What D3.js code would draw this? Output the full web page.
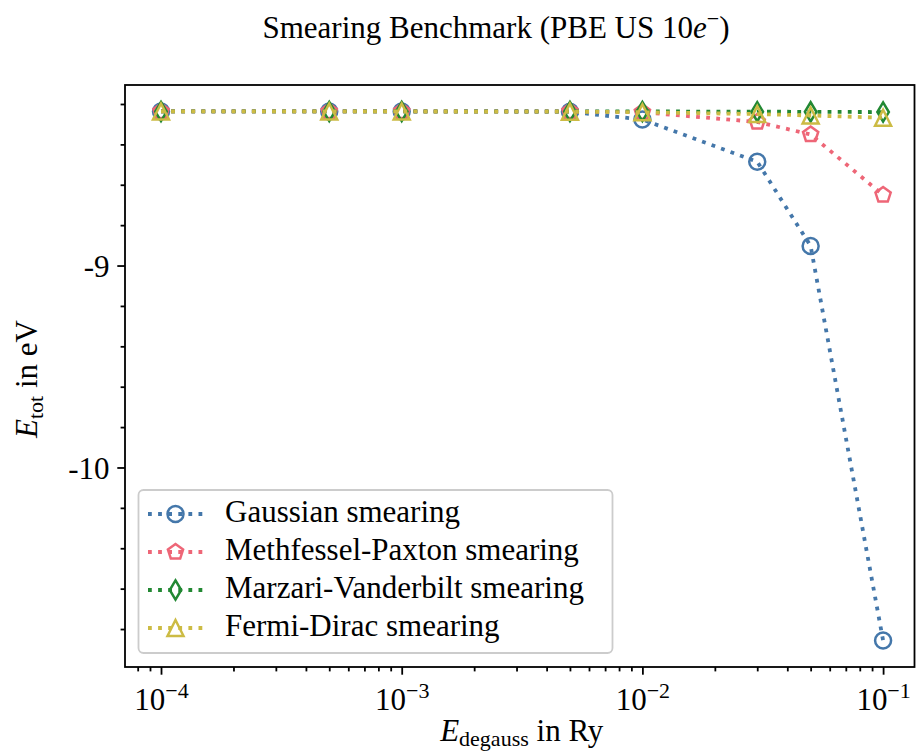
<!DOCTYPE html>
<html>
<head>
<meta charset="utf-8">
<script src="https://cdn.jsdelivr.net/npm/d3@7"></script>
<style>
  body { margin: 0; background: #fff; }
  svg { display: block; }
  text { font-family: "Liberation Serif", "Times New Roman", serif; fill: #000; }
</style>
</head>
<body>
<svg id="chart" width="919" height="751"></svg>
<script>
// Smearing width (Ry) used for every run
const degauss = [1e-4, 5e-4, 1e-3, 5e-3, 1e-2, 3e-2, 5e-2, 1e-1];

// Total energies (eV) per smearing scheme
const gaussian          = [-8.237, -8.237, -8.237, -8.239, -8.277, -8.486, -8.903, -10.857];
const methfesselPaxton  = [-8.237, -8.237, -8.237, -8.237, -8.241, -8.289, -8.351, -8.651];
const marzariVanderbilt = [-8.237, -8.237, -8.237, -8.237, -8.237, -8.238, -8.239, -8.240];
const fermiDirac        = [-8.237, -8.237, -8.237, -8.238, -8.241, -8.250, -8.257, -8.268];

const seriesNames   = ["Gaussian smearing", "Methfessel-Paxton smearing",
                       "Marzari-Vanderbilt smearing", "Fermi-Dirac smearing"];
const seriesValues  = [gaussian, methfesselPaxton, marzariVanderbilt, fermiDirac];
const seriesColors  = ["#4477AA", "#EE6677", "#228833", "#CCBB44"];
const seriesMarkers = ["circle", "pentagon", "thinDiamond", "triangle"];

// Tick positions and labels
const xMajorTicks    = [1e-4, 1e-3, 1e-2, 1e-1];
const xTickExponents = ["\u22124", "\u22123", "\u22122", "\u22121"];
const yMajorTicks    = [-9, -10];
const yTickLabels    = ["-9", "-10"];
const yMinorTicks    = [-8.2, -8.4, -8.6, -8.8, -9.2, -9.4, -9.6, -9.8, -10.2, -10.4, -10.6, -10.8];

const svg = d3.select("#chart");
const plot = { left: 125, right: 914.5, top: 85, bottom: 667 };

const x = d3.scaleLog()
  .domain([Math.pow(10, -4.1496), Math.pow(10, -0.8695)])
  .range([plot.left, plot.right]);

// y range padded by 5% of the data span
const allE = seriesValues.flat();
const eMin = d3.min(allE), eMax = d3.max(allE), pad = 0.05 * (eMax - eMin);
const y = d3.scaleLinear()
  .domain([eMin - pad, eMax + pad])
  .range([plot.bottom, plot.top]);

// minor ticks on the log axis: 2..9 x each decade that lies inside the domain
const xMinorTicks = [];
for (let e = -5; e <= 0; e++) {
  for (let m = 2; m <= 9; m++) {
    const v = m * Math.pow(10, e);
    if (v >= x.domain()[0] && v <= x.domain()[1]) xMinorTicks.push(v);
  }
}

const FONT = 31;
const TICK_W = 1.8;

// ---- axes ----
function styleAxis(g) {
  g.select(".domain").remove();
  g.selectAll(".tick line").attr("stroke", "#000").attr("stroke-width", TICK_W);
  g.selectAll(".tick text").remove();
}

svg.append("g")
  .attr("transform", `translate(0,${plot.bottom})`)
  .call(d3.axisBottom(x).tickValues(xMinorTicks).tickSize(4.4).tickFormat(""))
  .call(styleAxis);

const xMajor = svg.append("g")
  .attr("transform", `translate(0,${plot.bottom})`)
  .call(d3.axisBottom(x).tickValues(xMajorTicks).tickSize(7.7).tickFormat(""))
  .call(styleAxis);

xMajor.selectAll(".tick").each(function(d, i) {
  const t = d3.select(this).append("text")
    .attr("y", 43)
    .attr("text-anchor", "middle")
    .attr("font-size", FONT);
  t.append("tspan").text("10");
  t.append("tspan").attr("dy", -12).attr("font-size", 22).text(xTickExponents[i]);
});

svg.append("g")
  .attr("transform", `translate(${plot.left},0)`)
  .call(d3.axisLeft(y).tickValues(yMinorTicks).tickSize(4.4).tickFormat(""))
  .call(styleAxis);

const yMajor = svg.append("g")
  .attr("transform", `translate(${plot.left},0)`)
  .call(d3.axisLeft(y).tickValues(yMajorTicks).tickSize(7.7).tickFormat(""))
  .call(styleAxis);

yMajor.selectAll(".tick").append("text")
  .attr("x", -15.5)
  .attr("dy", "0.34em")
  .attr("text-anchor", "end")
  .attr("font-size", FONT)
  .text((d, i) => yTickLabels[i]);

// ---- markers ----
const MS = 16;
const MSW = 2.5;
function markerPath(kind, s) {
  const r = s / 2;
  if (kind === "circle") {
    return `M${r},0A${r},${r} 0 1,1 ${-r},0A${r},${r} 0 1,1 ${r},0Z`;
  }
  if (kind === "pentagon") {
    const pts = d3.range(5).map(k => {
      const a = (-90 + 72 * k) * Math.PI / 180;
      return [r * Math.cos(a), r * Math.sin(a)];
    });
    return "M" + pts.map(p => p.join(",")).join("L") + "Z";
  }
  if (kind === "thinDiamond") {
    const hh = 0.6 * s, hw = 0.6 * hh;
    return `M0,${-hh}L${hw},0L0,${hh}L${-hw},0Z`;
  }
  // triangle pointing up
  return `M0,${-r}L${r},${r}L${-r},${r}Z`;
}

// ---- series: dotted line, then hollow markers ----
const line = d3.line().x(d => x(d[0])).y(d => y(d[1]));
const DASH = "3.8 6.3";
const LW = 3.8;

seriesValues.forEach((vals, si) => {
  const pts = degauss.map((xv, i) => [xv, vals[i]]);
  const g = svg.append("g");
  g.append("path")
    .attr("d", line(pts))
    .attr("fill", "none")
    .attr("stroke", seriesColors[si])
    .attr("stroke-width", LW)
    .attr("stroke-dasharray", DASH);
  g.selectAll("path.mk").data(pts).join("path")
    .attr("class", "mk")
    .attr("transform", d => `translate(${x(d[0])},${y(d[1])})`)
    .attr("d", markerPath(seriesMarkers[si], MS))
    .attr("fill", "none")
    .attr("stroke", seriesColors[si])
    .attr("stroke-width", MSW)
    .attr("stroke-linejoin", "miter");
});

// ---- frame ----
svg.append("rect")
  .attr("x", plot.left).attr("y", plot.top)
  .attr("width", plot.right - plot.left).attr("height", plot.bottom - plot.top)
  .attr("fill", "none").attr("stroke", "#000").attr("stroke-width", 1.8);

// ---- legend ----
const legend = svg.append("g").attr("transform", "translate(138.5,490)");
legend.append("rect")
  .attr("width", 474).attr("height", 163).attr("rx", 5)
  .attr("fill", "rgba(255,255,255,0.8)")
  .attr("stroke", "#cccccc").attr("stroke-width", 1.8);

seriesNames.forEach((name, i) => {
  const cy = 24 + i * 38;
  const row = legend.append("g").attr("transform", `translate(0,${cy})`);
  row.append("line")
    .attr("x1", 9.5).attr("x2", 64.5).attr("y1", 0).attr("y2", 0)
    .attr("stroke", seriesColors[i]).attr("stroke-width", LW)
    .attr("stroke-dasharray", DASH);
  row.append("path")
    .attr("transform", "translate(37,0)")
    .attr("d", markerPath(seriesMarkers[i], MS))
    .attr("fill", "none")
    .attr("stroke", seriesColors[i])
    .attr("stroke-width", MSW);
  row.append("text")
    .attr("x", 86.5).attr("y", 7.5)
    .attr("font-size", FONT)
    .text(name);
});

// ---- titles ----
const title = svg.append("text")
  .attr("x", 496).attr("y", 38)
  .attr("text-anchor", "middle")
  .attr("font-size", FONT);
title.append("tspan").text("Smearing Benchmark (PBE US 10");
title.append("tspan").attr("font-style", "italic").text("e");
title.append("tspan").attr("dy", -12).attr("font-size", 22).text("\u2212");
title.append("tspan").attr("dy", 12).text(")");

const xLabel = svg.append("text")
  .attr("x", (plot.left + plot.right) / 2 + 2).attr("y", 741)
  .attr("text-anchor", "middle")
  .attr("font-size", FONT);
xLabel.append("tspan").attr("font-style", "italic").text("E");
xLabel.append("tspan").attr("dy", 5).attr("font-size", 22).text("degauss");
xLabel.append("tspan").attr("dy", -5).text(" in Ry");

const yLabel = svg.append("text")
  .attr("transform", `translate(37,${(plot.top + plot.bottom) / 2 + 3}) rotate(-90)`)
  .attr("text-anchor", "middle")
  .attr("font-size", FONT);
yLabel.append("tspan").attr("font-style", "italic").text("E");
yLabel.append("tspan").attr("dy", 6).attr("font-size", 22).text("tot");
yLabel.append("tspan").attr("dy", -6).text(" in eV");
</script>
</body>
</html>
